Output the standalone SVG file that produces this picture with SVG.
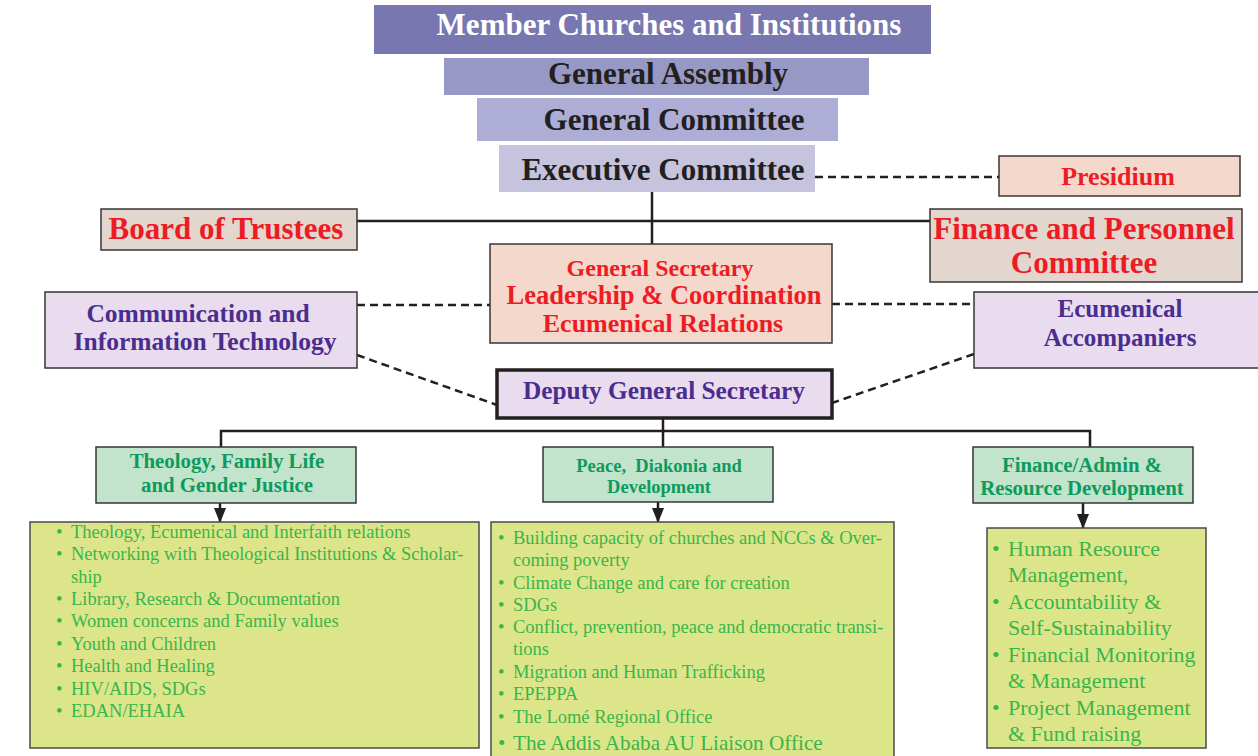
<svg xmlns="http://www.w3.org/2000/svg" width="1258" height="756" viewBox="0 0 1258 756">
<style>
text{font-family:"Liberation Serif","Times New Roman",serif}
.top{font-size:31px;font-weight:bold;fill:#231f20;text-anchor:middle}
.red{fill:#ed1c24;font-weight:bold;text-anchor:middle}
.pur{fill:#4b2d8f;font-weight:bold;text-anchor:middle}
.grn{fill:#0c9b5c;font-weight:bold;text-anchor:middle}
.li{fill:#39b54a;font-size:18.5px}
.bx{stroke:#3a3536;stroke-width:1.5}
.lst{fill:#dde58b;stroke:#4a4a4a;stroke-width:1.5}
.con{stroke:#231f20;stroke-width:2.5;fill:none}
.dash{stroke:#231f20;stroke-width:2.5;fill:none;stroke-dasharray:8 5}
</style>
<defs>
<marker id="ah" markerWidth="15" markerHeight="12" refX="14" refY="6" orient="auto" markerUnits="userSpaceOnUse" viewBox="0 0 15 12">
<path d="M0,0 L15,6 L0,12 Z" fill="#231f20"/>
</marker>
</defs>
<rect width="1258" height="756" fill="#ffffff"/>

<g id="connectors">
<line class="dash" x1="815" y1="177" x2="999" y2="177"/>
<line class="con" x1="357" y1="221" x2="930" y2="221"/>
<line class="con" x1="652" y1="192" x2="652" y2="251"/>
<line class="dash" x1="357" y1="305" x2="490" y2="305"/>
<line class="dash" x1="832" y1="304" x2="974" y2="304"/>
<line class="dash" x1="357" y1="355" x2="497" y2="405"/>
<line class="dash" x1="974" y1="354" x2="832" y2="403"/>
<line class="con" x1="663" y1="418" x2="663" y2="447"/>
<polyline class="con" points="221,447 221,431 1090,431 1090,447"/>
<line class="con" x1="220" y1="503" x2="220" y2="522" marker-end="url(#ah)"/>
<line class="con" x1="658" y1="502" x2="658" y2="522" marker-end="url(#ah)"/>
<line class="con" x1="1083" y1="503" x2="1083" y2="528" marker-end="url(#ah)"/>
</g>

<g id="member">
<rect x="374" y="5" width="557" height="49" fill="#7877b0"/>
<text class="top" x="669" y="35" style="fill:#ffffff">Member Churches and Institutions</text>
</g>
<g id="general-assembly">
<rect x="444" y="58" width="425" height="37" fill="#9898c4"/>
<text class="top" x="668" y="84">General Assembly</text>
</g>
<g id="general-committee">
<rect x="477" y="98" width="361" height="43" fill="#adadd6"/>
<text class="top" x="674" y="130">General Committee</text>
</g>
<g id="executive-committee">
<rect x="499" y="145" width="316" height="47" fill="#c5c3de"/>
<text class="top" x="663" y="180">Executive Committee</text>
</g>
<g id="presidium">
<rect class="bx" x="999" y="156" width="241" height="40" fill="#f4d8cc"/>
<text class="red" x="1118" y="185" font-size="26">Presidium</text>
</g>
<g id="board">
<rect class="bx" x="101" y="209" width="256" height="41" fill="#e2d6ce"/>
<text class="red" x="226" y="239" font-size="31">Board of Trustees</text>
</g>
<g id="finance-personnel">
<rect class="bx" x="930" y="209" width="312" height="73" fill="#e2d6ce"/>
<text class="red" x="1084" y="239" font-size="31">Finance and Personnel</text>
<text class="red" x="1084" y="273" font-size="31">Committee</text>
</g>
<g id="general-secretary">
<rect class="bx" x="490" y="244" width="342" height="99" fill="#f4d8cc"/>
<text class="red" x="660" y="276" font-size="24">General Secretary</text>
<text class="red" x="664" y="304" font-size="26.5">Leadership &amp; Coordination</text>
<text class="red" x="663" y="332" font-size="26">Ecumenical Relations</text>
</g>
<g id="communication">
<rect class="bx" x="45" y="292" width="312" height="76" fill="#e8dcee"/>
<text class="pur" x="198" y="322" font-size="25.5">Communication and</text>
<text class="pur" x="205" y="350" font-size="25.5">Information Technology</text>
</g>
<g id="ecumenical-accompaniers">
<rect class="bx" x="974" y="292" width="290" height="76" fill="#e8dcee"/>
<text class="pur" x="1120" y="317" font-size="25">Ecumenical</text>
<text class="pur" x="1120" y="346" font-size="25">Accompaniers</text>
</g>
<g id="deputy">
<rect x="497" y="370" width="335" height="48" fill="#e8dcee" stroke="#231f20" stroke-width="3.5"/>
<text class="pur" x="664" y="399" font-size="25.3">Deputy General Secretary</text>
</g>

<g id="theology">
<rect class="bx" x="96" y="447" width="260" height="56" fill="#c2e3cc"/>
<text class="grn" x="227" y="468" font-size="20.8">Theology, Family Life</text>
<text class="grn" x="227" y="492" font-size="20.8">and Gender Justice</text>
</g>
<g id="peace">
<rect class="bx" x="543" y="447" width="230" height="55" fill="#c2e3cc"/>
<text class="grn" x="659" y="472" font-size="18.5" xml:space="preserve">Peace,  Diakonia and</text>
<text class="grn" x="659" y="493" font-size="18.5">Development</text>
</g>
<g id="finance-admin">
<rect class="bx" x="973" y="447" width="220" height="56" fill="#c2e3cc"/>
<text class="grn" x="1082" y="472" font-size="20.8">Finance/Admin &amp;</text>
<text class="grn" x="1082" y="495" font-size="20.8">Resource Development</text>
</g>

<g id="theology-list">
<rect class="lst" x="30" y="522" width="449" height="226"/>
<g class="li">
<text x="56" y="538">•</text><text x="71" y="538">Theology, Ecumenical and Interfaith relations</text>
<text x="56" y="560">•</text><text x="71" y="560">Networking with Theological Institutions &amp; Scholar-</text>
<text x="71" y="583">ship</text>
<text x="56" y="605">•</text><text x="71" y="605">Library, Research &amp; Documentation</text>
<text x="56" y="627">•</text><text x="71" y="627">Women concerns and Family values</text>
<text x="56" y="650">•</text><text x="71" y="650">Youth and Children</text>
<text x="56" y="672">•</text><text x="71" y="672">Health and Healing</text>
<text x="56" y="695">•</text><text x="71" y="695">HIV/AIDS, SDGs</text>
<text x="56" y="717">•</text><text x="71" y="717">EDAN/EHAIA</text>
</g>
</g>
<g id="peace-list">
<rect class="lst" x="491" y="522" width="403" height="240"/>
<g class="li">
<text x="498" y="544">•</text><text x="513" y="544">Building capacity of churches and NCCs &amp; Over-</text>
<text x="513" y="566">coming poverty</text>
<text x="498" y="589">•</text><text x="513" y="589">Climate Change and care for creation</text>
<text x="498" y="611">•</text><text x="513" y="611">SDGs</text>
<text x="498" y="633">•</text><text x="513" y="633">Conflict, prevention, peace and democratic transi-</text>
<text x="513" y="655">tions</text>
<text x="498" y="678">•</text><text x="513" y="678">Migration and Human Trafficking</text>
<text x="498" y="700">•</text><text x="513" y="700">EPEPPA</text>
<text x="498" y="723">•</text><text x="513" y="723">The Lomé Regional Office</text>
<text x="498" y="750" style="font-size:21.2px">•</text><text x="513" y="750" style="font-size:21.2px">The Addis Ababa AU Liaison Office</text>
</g>
</g>
<g id="finance-list">
<rect class="lst" x="987" y="528" width="219" height="220"/>
<g class="li" style="font-size:22px">
<text x="992" y="556">•</text><text x="1008" y="556">Human Resource</text>
<text x="1008" y="582">Management,</text>
<text x="992" y="609">•</text><text x="1008" y="609">Accountability &amp;</text>
<text x="1008" y="635">Self-Sustainability</text>
<text x="992" y="662">•</text><text x="1008" y="662">Financial Monitoring</text>
<text x="1008" y="688">&amp; Management</text>
<text x="992" y="715">•</text><text x="1008" y="715">Project Management</text>
<text x="1008" y="741">&amp; Fund raising</text>
</g>
</g>
</svg>
